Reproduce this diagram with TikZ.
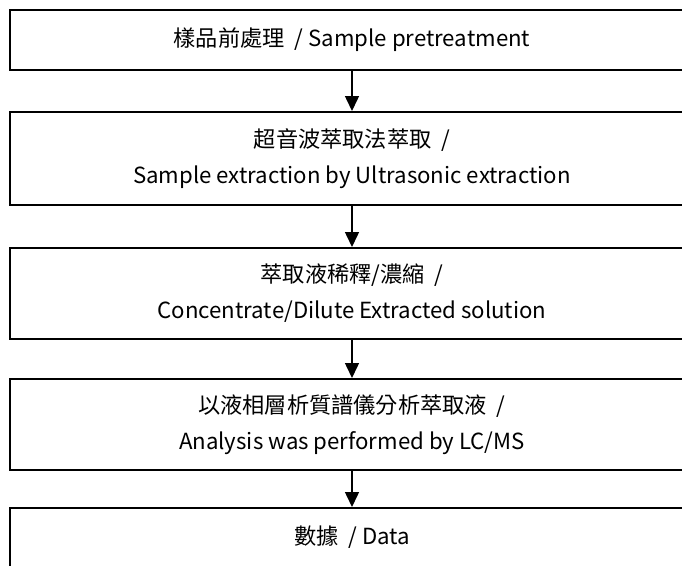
\documentclass[tikz,border=0pt]{standalone}
\usepackage{fontspec}
\setmainfont{Noto Sans CJK TC}
\usetikzlibrary{arrows.meta}
\begin{document}
\begin{tikzpicture}[x=1pt,y=1pt,
  box/.style={draw=black, line width=1.6pt, minimum width=684pt, inner sep=0pt,
    align=center, font=\fontsize{22.2}{36}\selectfont},
  flow/.style={line width=1.5pt, -{Triangle[width=14pt,length=15pt]}}]
\useasboundingbox (0,0) rectangle (682,-565);
\node[box, minimum height=60pt, anchor=north] (n1) at (352,-9) {樣品前處理\ \ / Sample pretreatment};
\node[box, minimum height=93pt, anchor=north] (n2) at (352,-111) {超音波萃取法萃取\ \ /\\Sample extraction by Ultrasonic extraction};
\node[box, minimum height=91pt, anchor=north] (n3) at (352,-247) {萃取液稀釋/濃縮\ \ /\\Concentrate/Dilute Extracted solution};
\node[box, minimum height=91pt, anchor=north] (n4) at (352,-378) {以液相層析質譜儀分析萃取液\ \ /\\Analysis was performed by LC/MS};
\node[box, minimum height=80pt, anchor=north, text depth=26pt] (n5) at (352,-507) {數據\ \ / Data};
\draw[flow] (n1.south) -- (n2.north);
\draw[flow] (n2.south) -- (n3.north);
\draw[flow] (n3.south) -- (n4.north);
\draw[flow] (n4.south) -- (n5.north);
\end{tikzpicture}
\end{document}
